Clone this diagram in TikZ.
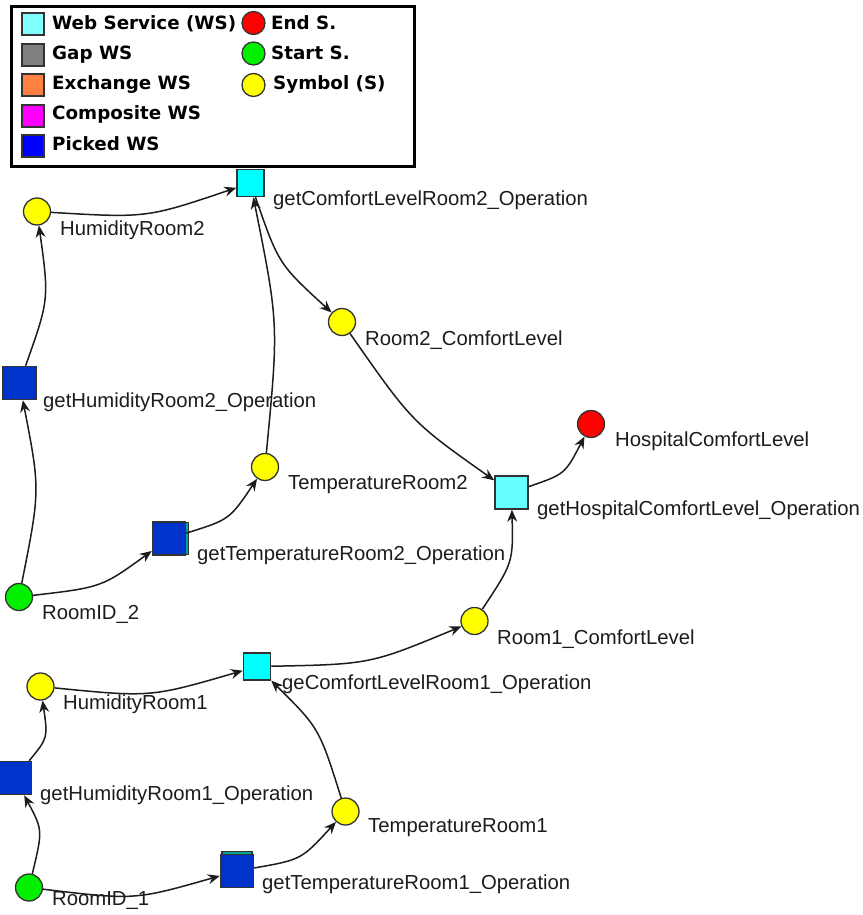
\documentclass[tikz,border=0pt]{standalone}
\usepackage{fontspec}
\setmainfont{Liberation Sans}
\newfontfamily\legendfont{DejaVu Sans}
\usetikzlibrary{calc,arrows.meta}

\definecolor{wscyan}{HTML}{00FFFF}
\definecolor{wscyanlt}{HTML}{66FFFF}
\definecolor{legcyan}{HTML}{80FFFF}
\definecolor{pickblue}{HTML}{0033CC}
\definecolor{legblue}{HTML}{0000FF}
\definecolor{gapgray}{HTML}{808080}
\definecolor{exorange}{HTML}{FF8040}
\definecolor{compmag}{HTML}{FF00FF}
\definecolor{endred}{HTML}{FF0000}
\definecolor{startgreen}{HTML}{00F000}
\definecolor{symyellow}{HTML}{FFFF00}
\definecolor{rim}{HTML}{333333}
\definecolor{ink}{HTML}{1C1C1C}
\definecolor{shadowteal}{HTML}{00A890}

\tikzset{
  wsbox/.style={rectangle, draw=rim, line width=1.5pt, inner sep=0pt, minimum size=33pt},
  wssmall/.style={wsbox, minimum size=27pt},
  sym/.style={circle, draw=rim, line width=1.3pt, inner sep=0pt, minimum size=27pt},
  lbl/.style={anchor=base west, inner sep=0pt, text=ink, font=\fontsize{20.3}{24}\selectfont},
  legsq/.style={rectangle, draw=rim, line width=1.3pt, inner sep=0pt, minimum width=22pt, minimum height=22pt},
  legcirc/.style={circle, draw=rim, line width=1.3pt, inner sep=0pt, minimum size=23pt},
  legtxt/.style={anchor=base west, inner sep=0pt, font=\legendfont\bfseries\fontsize{18.3}{22}\selectfont},
  flow/.style={draw=ink, line width=1.5pt, -{Stealth[length=12pt,width=10pt,inset=4pt]}}
}

% curved connector bulging to the right of its direction
\newcommand\wsedge[2]{\draw[flow] (#1) .. controls ($(#1)!0.5!(#2)!21pt!-90:(#2)$) .. (#2);}

\begin{document}
\begin{tikzpicture}[x=1pt, y=-1pt]
\useasboundingbox (0,0) rectangle (862,915);

% ---------- legend ----------
\node[draw=black, line width=3pt, minimum width=403pt, minimum height=160pt, anchor=north west, inner sep=0pt] (legend) at (10,5) {};
\node[legsq, fill=legcyan] (lws) at (33,24) {};
\node[legsq, fill=gapgray] (lgap) at (33,55) {};
\node[legsq, fill=exorange] (lex) at (33,85) {};
\node[legsq, fill=compmag] (lcomp) at (33,116) {};
\node[legsq, fill=legblue] (lpick) at (33,146) {};
\node[legtxt] (tws) at (52,30) {Web Service (WS)};
\node[legtxt] (tgap) at (52,60) {Gap WS};
\node[legtxt] (tex) at (52,90) {Exchange WS};
\node[legtxt] (tcomp) at (52,120) {Composite WS};
\node[legtxt] (tpick) at (52,150) {Picked WS};
\node[legcirc, fill=endred] (lend) at (253.5,23) {};
\node[legcirc, fill=startgreen] (lstart) at (253.5,53.5) {};
\node[legcirc, fill=symyellow] (lsym) at (253.5,85) {};
\node[legtxt] (tend) at (271,30) {End S.};
\node[legtxt] (tstart) at (271,60) {Start S.};
\node[legtxt] (tsym) at (273,90) {Symbol (S)};

% ---------- room 2 branch ----------
\node[wssmall, fill=wscyan] (cl2) at (250.5,183) {};
\node[sym, fill=symyellow] (hum2) at (37,211.5) {};
\node[wsbox, fill=pickblue] (gh2) at (19.5,383) {};
\node[sym, fill=symyellow] (rc2) at (342,322) {};
\node[sym, fill=symyellow] (tmp2) at (265,467) {};
\filldraw[fill=shadowteal, draw=rim, line width=1.2pt] (155,522.5) rectangle (188.5,554.5);
\node[wsbox, fill=pickblue] (gt2) at (169,538.5) {};
\node[sym, fill=startgreen] (id2) at (19,597) {};

% ---------- hospital level ----------
\node[sym, fill=endred] (hosp) at (591,424) {};
\node[wsbox, fill=wscyanlt] (gho) at (511.5,492.5) {};
\node[sym, fill=symyellow] (rc1) at (474.5,621) {};

% ---------- room 1 branch ----------
\node[wssmall, fill=wscyan] (cl1) at (257,666.5) {};
\node[sym, fill=symyellow] (hum1) at (40.5,686.5) {};
\node[wsbox, fill=pickblue] (gh1) at (15,778) {};
\node[sym, fill=symyellow] (tmp1) at (345.5,811.5) {};
\filldraw[fill=shadowteal, draw=rim, line width=1.2pt] (222,851.5) rectangle (252,884);
\node[wsbox, fill=pickblue] (gt1) at (237,871) {};
\node[sym, fill=startgreen] (id1) at (29,887.5) {};

% ---------- labels ----------
\node[lbl] (lcl2) at (273,205) {getComfortLevelRoom2\_Operation};
\node[lbl] (lhum2) at (60,235) {HumidityRoom2};
\node[lbl] (lgh2) at (43,407) {getHumidityRoom2\_Operation};
\node[lbl] (lrc2) at (365,345) {Room2\_ComfortLevel};
\node[lbl] (ltmp2) at (288,489) {TemperatureRoom2};
\node[lbl] (lgt2) at (197,560) {getTemperatureRoom2\_Operation};
\node[lbl] (lid2) at (42,619) {RoomID\_2};
\node[lbl] (lhosp) at (615,446) {HospitalComfortLevel};
\node[lbl] (lgho) at (537,515) {getHospitalComfortLevel\_Operation};
\node[lbl] (lrc1) at (497,644) {Room1\_ComfortLevel};
\node[lbl] (lcl1) at (282,689) {geComfortLevelRoom1\_Operation};
\node[lbl] (lhum1) at (63,709) {HumidityRoom1};
\node[lbl] (lgh1) at (40,800) {getHumidityRoom1\_Operation};
\node[lbl] (lid1) at (52,905) {RoomID\_1};
\node[lbl] (lgt1) at (262,889) {getTemperatureRoom1\_Operation};
\node[lbl] (ltmp1) at (368,832) {TemperatureRoom1};

% ---------- connectors ----------
\wsedge{hum2}{cl2}
\wsedge{gh2}{hum2}
\wsedge{id2}{gh2}
\wsedge{id2}{gt2}
\wsedge{gt2}{tmp2}
\wsedge{tmp2}{cl2}
\wsedge{cl2}{rc2}
\wsedge{rc2}{gho}
\wsedge{gho}{hosp}
\wsedge{rc1}{gho}
\wsedge{cl1}{rc1}
\wsedge{hum1}{cl1}
\wsedge{gh1}{hum1}
\wsedge{id1}{gh1}
\wsedge{id1}{gt1}
\wsedge{gt1}{tmp1}
\wsedge{tmp1}{cl1}
\end{tikzpicture}
\end{document}
